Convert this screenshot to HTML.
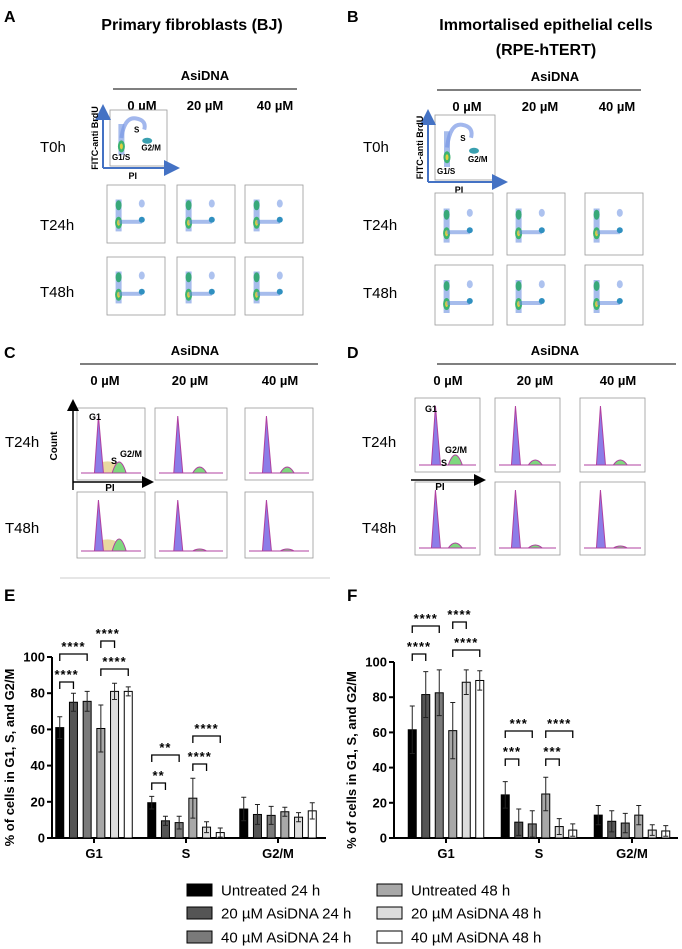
<!DOCTYPE html>
<html><head><meta charset="utf-8">
<style>
html,body{margin:0;padding:0;background:#fff;}
svg{display:block;font-family:"Liberation Sans",sans-serif;}
.hdr{font-weight:bold;}
</style></head>
<body>
<svg id="fig" width="682" height="949" viewBox="0 0 682 949" xmlns="http://www.w3.org/2000/svg">
<defs>
<marker id="ab" markerWidth="8" markerHeight="8" refX="4" refY="4" orient="auto"><path d="M0,0 L8,4 L0,8z" fill="#4472c4"/></marker>
<marker id="ak" markerWidth="8" markerHeight="8" refX="4" refY="4" orient="auto"><path d="M0,0 L8,4 L0,8z" fill="#000"/></marker>
</defs>
<g id="top"></g>
<g id="chartE"></g>
<g id="chartF"></g>
<g id="legend"></g>
</svg>
<script>
// ---- bar chart data ----
const categories = ["G1", "S", "G2/M"];
const seriesNames = ["Untreated 24 h","20 µM AsiDNA 24 h","40 µM AsiDNA 24 h","Untreated 48 h","20 µM AsiDNA 48 h","40 µM AsiDNA 48 h"];
const seriesColors = ["#000000","#555555","#7a7a7a","#a8a8a8","#dcdcdc","#ffffff"];
const yTicks = [0, 20, 40, 60, 80, 100];
// Panel E (BJ): values per category, one per series
const eG1 = [61, 75, 75.5, 60.5, 81, 81];
const eS = [19.5, 9.5, 8.5, 22, 6, 3];
const eG2M = [16, 13, 12.5, 14.5, 11.5, 15];
const eG1Err = [6, 5, 5.5, 13, 4.5, 2.5];
const eSErr = [3.5, 2.5, 3.5, 11, 3, 2.5];
const eG2MErr = [6.5, 5.5, 5, 2.5, 2.5, 4.5];
// Panel F (RPE-hTERT)
const fG1 = [61.5, 81.5, 82.5, 61, 88.5, 89.5];
const fS = [24.5, 9, 8, 25, 6.5, 4.5];
const fG2M = [13, 9.5, 8.5, 13, 4.5, 4];
const fG1Err = [13.5, 13, 13, 16, 7, 5.5];
const fSErr = [7.5, 7.5, 7.5, 9.5, 4.5, 3.5];
const fG2MErr = [5.5, 6, 5.5, 5.5, 3, 3];
// significance: [category index, series a, series b, label, level]
const eSig = [[0,0,1,"****",0],[0,0,2,"****",1],[0,3,5,"****",0],[0,3,4,"****",1],[1,0,1,"**",0],[1,0,2,"**",1],[1,3,4,"****",0],[1,3,5,"****",1]];
const fSig = [[0,0,1,"****",0],[0,0,2,"****",1],[0,3,5,"****",0],[0,3,4,"****",1],[1,0,1,"***",0],[1,0,2,"***",1],[1,3,4,"***",0],[1,3,5,"****",1]];

const NS="http://www.w3.org/2000/svg";
function mk(parent, tag, attrs, text){
  const e=document.createElementNS(NS,tag);
  for(const k in attrs) e.setAttribute(k, attrs[k]);
  if(text!==undefined) e.textContent=text;
  parent.appendChild(e); return e;
}

function drawChart(gid, cfg, vals, errs, sig){
  const g=document.getElementById(gid);
  const y=v=>cfg.y0-(v/100)*(cfg.y0-cfg.y100);
  const catX=i=>cfg.c0+i*cfg.cstep;
  const barX=(c,s)=>catX(c)+(s-2.5)*cfg.bstep;
  // axes
  const ya=mk(g,'line',{x1:cfg.ax,y1:y(100),x2:cfg.ax,y2:y(0),stroke:'#000','stroke-width':2});
   
  const xa=mk(g,'line',{x1:cfg.ax,y1:y(0),x2:cfg.axEnd,y2:y(0),stroke:'#000','stroke-width':2});
   
  yTicks.forEach(t=>{
    mk(g,'line',{x1:cfg.ax-5,y1:y(t),x2:cfg.ax,y2:y(t),stroke:'#000','stroke-width':2});
    const tl=mk(g,'text',{x:cfg.ax-7,y:y(t)+4.5,'text-anchor':'end','font-size':13,'font-weight':'bold'},String(t));
     
  });
  categories.forEach((c,i)=>{
    mk(g,'line',{x1:catX(i),y1:y(0),x2:catX(i),y2:y(0)+5,stroke:'#000','stroke-width':2});
    const cl=mk(g,'text',{x:catX(i),y:y(0)+20,'text-anchor':'middle','font-size':13,'font-weight':'bold'},c);
     
  });
  const yt=mk(g,'text',{x:0,y:0,'text-anchor':'middle','font-size':13,'font-weight':'bold',transform:`translate(${cfg.ax-38},${(y(0)+y(100))/2+10}) rotate(-90)`},'% of cells in G1, S, and G2/M');
   
  vals.forEach((arr,c)=>{
    arr.forEach((v,s)=>{
      const cx=barX(c,s), w=cfg.bw;
      const r=mk(g,'rect',{x:cx-w/2,y:y(v),width:w,height:y(0)-y(v),fill:seriesColors[s],stroke:'#000','stroke-width':1});
      
      
      const e=errs[c][s];
      mk(g,'path',{d:`M${cx},${y(v-e)}V${y(v+e)}M${cx-2.5},${y(v+e)}h5M${cx-2.5},${y(v-e)}h5`,stroke:'#222','stroke-width':1,fill:'none'});
    });
  });
  sig.forEach(sg=>{
    const [c,a,b,lab,lev]=sg;
    const top=Math.max(...vals[c].slice(a,b+1).map((v,k)=>v+errs[c][a+k]));
    const by=cfg.sigBase[c][a>=3?1:0]-lev*cfg.sigStep;
    const x1=barX(c,a), x2=barX(c,b);
    mk(g,'path',{d:`M${x1},${by+7}V${by}H${x2}V${by+7}`,stroke:'#000','stroke-width':1.3,fill:'none'});
    const st=mk(g,'text',{x:(x1+x2)/2,y:by-3,'text-anchor':'middle','font-size':13,'font-weight':'bold','letter-spacing':'1'},lab);
     
  });
}
drawChart('chartE',{ax:52,axEnd:326,y0:838,y100:657,c0:94,cstep:92,bstep:13.7,bw:8,sigStep:28,
  sigBase:[[682,669],[783,764]]},[eG1,eS,eG2M],[eG1Err,eSErr,eG2MErr],eSig);
drawChart('chartF',{ax:394,axEnd:678,y0:838,y100:662,c0:446,cstep:93,bstep:13.5,bw:8,sigStep:28,
  sigBase:[[654,650],[759,759]]},[fG1,fS,fG2M],[fG1Err,fSErr,fG2MErr],fSig);

// panel letters for E/F
const tg=document.getElementById('top');
function T(x,y,t,size,bold,anchor,name){
  const e=mk(tg,'text',{x:x,y:y,'font-size':size,'font-weight':bold?'bold':'normal','text-anchor':anchor||'start'},t);
    return e;
}
T(4,601,'E',17,true,'start','panel-letter-e');
T(347,601,'F',17,true,'start','panel-letter-f');

// legend
const lg=document.getElementById('legend');
seriesNames.forEach((n,i)=>{
  const col=Math.floor(i/3), row=i%3;
  const bx=col?377:187, cy=[890,913,937][row];
  mk(lg,'rect',{x:bx,y:cy-6,width:25,height:12,fill:seriesColors[i],stroke:'#000','stroke-width':1});
  const t=mk(lg,'text',{x:bx+34,y:cy+5.5,'font-size':15},n);
   
});

// ---- top flow panels ----
T(4,22,'A',16,true,'start','panel-letter-a');
T(347,22,'B',16,true,'start','panel-letter-b');
T(4,358,'C',16,true,'start','panel-letter-c');
T(347,358,'D',16,true,'start','panel-letter-d');
T(192,30,'Primary fibroblasts (BJ)',16,true,'middle','title-bj');
T(546,30,'Immortalised epithelial cells',16,true,'middle','title-rpe-1');
T(546,55,'(RPE-hTERT)',16,true,'middle','title-rpe-2');

function header(cx,y,x1,x2,cols){
  T(cx,y,'AsiDNA',13,true,'middle','asidna-header');
  mk(tg,'line',{x1:x1,y1:y+9,x2:x2,y2:y+9,stroke:'#333','stroke-width':1.3});
  const lbl=['0 µM','20 µM','40 µM'];
  cols.forEach((c,i)=>T(c,y+30,lbl[i],13,true,'middle','dose-label'));
}
header(205,80,113,297,[142,205,275]);
header(555,81,437,641,[467,540,617]);
header(195,355,80,318,[105,190,280]);
header(555,355,437,676,[448,535,618]);

function scatter(x,y,w,h,type){
  const g=mk(tg,'g',{});
   
  mk(g,'rect',{x:x,y:y,width:w,height:h,fill:'#fff',stroke:'#999','stroke-width':0.8});
  const gx=x+w*0.2, g2x=x+w*0.6;
  // G1 column
  mk(g,'rect',{x:gx-3,y:y+h*0.25,width:6,height:h*0.55,fill:'#6a8fe0',opacity:0.6});
  mk(g,'ellipse',{cx:gx,cy:y+h*0.65,rx:3.5,ry:6,fill:'#3cb371'});
  mk(g,'ellipse',{cx:gx,cy:y+h*0.65,rx:1.5,ry:3,fill:'#e0d040'});
  if(type!=='t0'){
    mk(g,'ellipse',{cx:gx,cy:y+h*0.35,rx:3,ry:5,fill:'#38a87a'});
    mk(g,'rect',{x:gx,y:y+h*0.6,width:g2x-gx,height:4,fill:'#6a8fe0',opacity:0.6});
    mk(g,'ellipse',{cx:g2x,cy:y+h*0.6,rx:3,ry:3,fill:'#3090c0'});
    mk(g,'ellipse',{cx:g2x,cy:y+h*0.32,rx:3,ry:4,fill:'#8aa8e8',opacity:0.7});
  } else {
    mk(g,'path',{d:`M${gx},${y+h*0.5} Q${gx+3},${y+h*0.12} ${x+w*0.45},${y+h*0.15} T${g2x},${y+h*0.35}`,stroke:'#7a98e6','stroke-width':4,fill:'none',opacity:0.7});
    mk(g,'ellipse',{cx:g2x+3,cy:y+h*0.55,rx:5,ry:3,fill:'#3aa0b0'});
  }
}
function t0axes(x,y,w,h){
  mk(tg,'line',{x1:x-7,y1:y+h+2,x2:x-7,y2:y+2,stroke:'#4472c4','stroke-width':2,'marker-end':'url(#ab)'});
  mk(tg,'line',{x1:x-7,y1:y+h+2,x2:x+w+5,y2:y+h+2,stroke:'#4472c4','stroke-width':2,'marker-end':'url(#ab)'});
  const t=mk(tg,'text',{x:0,y:0,'font-size':9,'font-weight':'bold','text-anchor':'middle',transform:`translate(${x-12},${y+h/2}) rotate(-90)`},'FITC-anti BrdU');
   
  T(x+w*0.4,y+h+13,'PI',9,true,'middle','x-axis-label-pi');
  T(x+2,y+h-6,'G1/S',8,true,'start','g1s-label');
  T(x+w*0.55,y+h*0.72,'G2/M',8,true,'start','g2m-label');
  T(x+w*0.42,y+h*0.4,'S',8,true,'start','s-label');
}
// A
T(40,152,'T0h',15,false,'start','row-label');
scatter(110,110,57,56,'t0'); t0axes(110,110,57,56);
T(40,230,'T24h',15,false,'start','row-label');
T(40,297,'T48h',15,false,'start','row-label');
[107,177,245].forEach(x=>{scatter(x,185,58,58,'t');scatter(x,257,58,58,'t');});
// B
T(363,152,'T0h',15,false,'start','row-label');
scatter(435,115,60,65,'t0'); t0axes(435,115,60,65);
T(363,230,'T24h',15,false,'start','row-label');
T(363,298,'T48h',15,false,'start','row-label');
[435,507,585].forEach(x=>{scatter(x,193,58,62,'t');scatter(x,265,58,60,'t');});

function hist(x,y,w,h,g2,sfill){
  const g=mk(tg,'g',{});
   
  mk(g,'rect',{x:x,y:y,width:w,height:h,fill:'#fff',stroke:'#999','stroke-width':0.8});
  const b=y+h-7, px=x+w*0.33, qx=x+w*0.62;
  if(sfill) mk(g,'path',{d:`M${px},${b} L${px},${b-10} Q${x+w*0.48},${b-14} ${qx},${b-8} L${qx},${b}z`,fill:'#e8d9a0'});
  mk(g,'path',{d:`M${px-5},${b} L${px-1},${y+8} L${px+4},${b}z`,fill:'#8c7de8',stroke:'#b040a0','stroke-width':1});
  mk(g,'path',{d:`M${qx-7},${b} Q${qx},${b-g2*2} ${qx+7},${b}z`,fill:'#7ed87e',stroke:'#b040a0','stroke-width':1});
  mk(g,'line',{x1:x+4,y1:b,x2:x+w-4,y2:b,stroke:'#b040a0','stroke-width':1});
}
// C
T(5,447,'T24h',15,false,'start','row-label');
T(5,533,'T48h',15,false,'start','row-label');
hist(77,408,68,72,11,true); hist(155,408,72,72,6,false); hist(245,408,68,72,6,false);
hist(77,492,68,66,12,true); hist(155,492,72,66,2,false); hist(245,492,68,66,2,false);
mk(tg,'line',{x1:60,y1:578,x2:330,y2:578,stroke:'#ccc','stroke-width':1});
mk(tg,'line',{x1:73,y1:490,x2:73,y2:405,stroke:'#000','stroke-width':1.5,'marker-end':'url(#ak)'});
mk(tg,'line',{x1:73,y1:482,x2:148,y2:482,stroke:'#000','stroke-width':1.5,'marker-end':'url(#ak)'});
mk(tg,'text',{x:0,y:0,'font-size':10,'font-weight':'bold','text-anchor':'middle',transform:'translate(57,446) rotate(-90)'},'Count');
T(110,491,'PI',10,true,'middle','pi-label');
T(89,420,'G1',9,true,'start','g1-label');
T(111,464,'S',9,true,'start','s-label');
T(120,457,'G2/M',9,true,'start','g2m-label');
// D
T(362,447,'T24h',15,false,'start','row-label');
T(362,533,'T48h',15,false,'start','row-label');
hist(415,398,65,74,10,false); hist(495,398,65,74,5,false); hist(580,398,65,74,5,false);
hist(415,482,65,73,5,false); hist(495,482,65,73,3,false); hist(580,482,65,73,2,false);
mk(tg,'line',{x1:411,y1:480,x2:480,y2:480,stroke:'#000','stroke-width':1.5,'marker-end':'url(#ak)'});
T(440,490,'PI',10,true,'middle','pi-label');
T(425,412,'G1',9,true,'start','g1-label');
T(445,453,'G2/M',9,true,'start','g2m-label');
T(441,466,'S',9,true,'start','s-label');
</script>
</body></html>
